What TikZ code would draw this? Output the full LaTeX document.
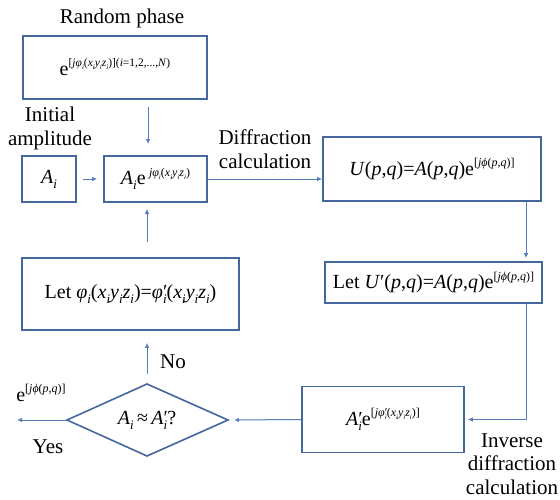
\documentclass[tikz,border=0pt]{standalone}
\usepackage{fontspec}
\setmainfont{Liberation Serif}
\usetikzlibrary{arrows.meta,calc}
\definecolor{boxc}{RGB}{68,104,156}
\definecolor{linec}{RGB}{84,126,186}
\newcommand{\mi}[1]{\textit{#1}}
\newcommand{\su}[1]{\raisebox{0.42em}{\fontsize{12}{12}\selectfont #1}}
\newcommand{\suS}[1]{\raisebox{0.45em}{\fontsize{11.5}{11.5}\selectfont #1}}
\newcommand{\lo}[1]{\raisebox{-0.22em}{\fontsize{7}{7}\selectfont\itshape #1}}
\newcommand{\loB}[1]{\raisebox{-0.25em}{\fontsize{13}{13}\selectfont\itshape #1}}
\newcommand{\pr}{\rlap{′}}
\begin{document}
\begin{tikzpicture}[x=1pt,y=-1pt,
  box/.style={draw=boxc,line width=1.6pt,inner sep=0pt,font=\fontsize{20}{24}\selectfont},
  lbl/.style={font=\fontsize{21}{24}\selectfont,align=center,inner sep=0pt},
  conn/.style={draw=linec,line width=1pt,-{Latex[length=5pt,width=4.5pt]}}]
\useasboundingbox (0,0) rectangle (560,499);

% boxes
\node[box,minimum width=184pt,minimum height=63pt] (rp) at (115,67.5)
  {e\suS{[\mi{jφ}\lo{i}(\mi{x}\lo{i}\mi{y}\lo{i}\mi{z}\lo{i})](\mi{i}=1,2,...,\mi{N})}};
\node[box,minimum width=54pt,minimum height=46pt] (ai) at (49,179) {\mi{A}\loB{i}};
\node[box,minimum width=103pt,minimum height=46pt] (aie) at (155.5,179)
  {\mi{A}\loB{i}e\,\su{\mi{jφ}\lo{i}(\mi{x}\lo{i}\mi{y}\lo{i}\mi{z}\lo{i})}};
\node[box,minimum width=218pt,minimum height=64pt] (u) at (432,169)
  {\mi{U}(\mi{p},\mi{q})=\mi{A}(\mi{p},\mi{q})e\su{[\mi{jϕ}(\mi{p},\mi{q})]}};
\node[box,minimum width=217pt,minimum height=41pt] (up) at (433.5,282.5)
  {Let \mi{U}′(\mi{p},\mi{q})=\mi{A}(\mi{p},\mi{q})e\su{[\mi{jϕ}(\mi{p},\mi{q})]}};
\node[box,minimum width=162pt,minimum height=66pt] (ap) at (383,419.5)
  {\mi{A}\pr\loB{i}e\su{[\mi{jφ}\pr\lo{i}(\mi{x}\lo{i}\mi{y}\lo{i}\mi{z}\lo{i})]}};
\node[box,minimum width=217pt,minimum height=72pt] (let) at (130.5,294)
  {Let \mi{φ}\loB{i}(\mi{x}\loB{i}\mi{y}\loB{i}\mi{z}\loB{i})=\mi{φ}\pr\loB{i}(\mi{x}\loB{i}\mi{y}\loB{i}\mi{z}\loB{i})};

% diamond
\coordinate (dl) at (67,420);
\coordinate (dr) at (228,420);
\coordinate (dt) at (147,384);
\coordinate (db) at (147,456);
\draw[draw=boxc,line width=1.6pt,line join=miter] (dl) -- (dt) -- (dr) -- (db) -- cycle;
\node[inner sep=0pt,font=\fontsize{20}{24}\selectfont] (dq) at (147,420)
  {\mi{A}\loB{i}\,≈\,\mi{A}\pr\loB{i}?};

% labels
\node[lbl] (lrp) at (122,18) {Random phase};
\node[lbl] (lia) at (50,128) {Initial\\amplitude};
\node[lbl] (ldc) at (265,149) {Diffraction\\calculation};
\node[lbl] (lno) at (173,362) {No};
\node[lbl] (lyes) at (48,447) {Yes};
\node[lbl,font=\fontsize{20}{24}\selectfont] (lexp) at (41,393) {e\su{[\mi{jϕ}(\mi{p},\mi{q})]}};
\node[lbl,font=\fontsize{21}{23.5}\selectfont] (linv) at (512,464) {Inverse\\diffraction\\calculation};

% connectors
\coordinate (a1s) at (148,107);
\coordinate (a1e) at (148,144);
\draw[conn] (a1s) -- (a1e);
\draw[conn,shorten <=6pt,shorten >=6pt] (ai) -- (aie);
\draw[conn] (aie.east) -- (aie.east -| u.west);
\coordinate (c1) at (526,0);
\draw[conn,shorten >=3pt] (u.south -| c1) -- (up.north -| c1);
\draw[conn,shorten >=3pt] (up.south -| c1) |- (ap.east);
\draw[conn,shorten >=6pt] (ap.west) -- (dr);
\coordinate (yesend) at (17,420);
\draw[conn] (dl) -- (yesend);
\coordinate (c2) at (147,0);
\draw[conn,shorten <=10pt,shorten >=12pt] (dt) -- (let.south -| c2);
\draw[conn,shorten <=15pt,shorten >=6pt] (let.north -| c2) -- (aie.south -| c2);
\end{tikzpicture}
\end{document}
